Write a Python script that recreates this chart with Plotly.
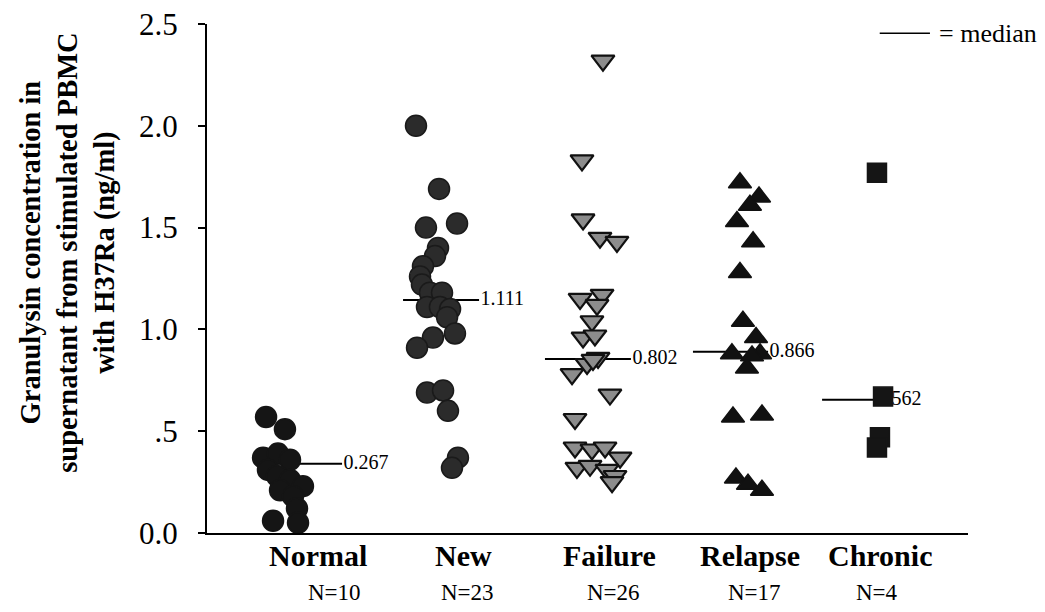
import plotly.graph_objects as go

# ---------------- data ----------------
categories = ["Normal", "New", "Failure", "Relapse", "Chronic"]
n_labels = ["N=10", "N=23", "N=26", "N=17", "N=4"]

normal_vals = [0.57, 0.51, 0.37, 0.39, 0.36, 0.31, 0.28, 0.26, 0.23, 0.21, 0.18, 0.12, 0.06, 0.05]
normal_jit = [-0.114, 0.013, -0.134, -0.034, 0.047, -0.101, -0.040, 0.047, 0.134, -0.020, 0.067, 0.094, -0.067, 0.101]

new_vals = [2.00, 1.69, 1.50, 1.52, 1.40, 1.36, 1.31, 1.26, 1.22, 1.18, 1.18, 1.11, 1.11, 1.10, 1.06,
            0.98, 0.96, 0.91, 0.69, 0.70, 0.60, 0.37, 0.32]
new_jit = [-0.106, 0.049, -0.039, 0.170, 0.042, 0.022, -0.059, -0.079, -0.066, -0.012, 0.069, -0.032,
           0.055, 0.123, 0.103, 0.156, 0.008, -0.099, -0.032, 0.076, 0.109, 0.176, 0.136]

failure_vals = [2.32, 1.83, 1.54, 1.45, 1.43, 1.15, 1.17, 1.12, 1.04, 0.96, 0.97, 0.86, 0.83, 0.85,
                0.78, 0.68, 0.56, 0.42, 0.41, 0.42, 0.37, 0.32, 0.33, 0.31, 0.28, 0.25]
failure_jit = [0.151, 0.010, 0.017, 0.131, 0.245, -0.003, 0.145, 0.111, 0.077, 0.017, 0.097, 0.118,
               0.044, 0.084, -0.057, 0.198, -0.037, -0.037, 0.077, 0.165, 0.266, -0.024, 0.064,
               0.178, 0.232, 0.212]

relapse_vals = [1.72, 1.65, 1.61, 1.53, 1.43, 1.28, 1.04, 0.96, 0.88, 0.88, 0.87, 0.81, 0.57, 0.58,
                0.27, 0.24, 0.21]
relapse_jit = [0.072, 0.200, 0.139, 0.052, 0.160, 0.072, 0.092, 0.180, 0.018, 0.207, 0.153, 0.119,
               0.025, 0.220, 0.045, 0.126, 0.220]

chronic_vals = [1.77, 0.67, 0.47, 0.42]
chronic_jit = [-0.007, 0.034, 0.013, -0.007]

median_y = [0.34, 1.145, 0.855, 0.89, 0.655]
median_text = ["0.267", "1.111", "0.802", "0.866", "0.562"]
median_x0 = [-0.054, -0.193, -0.239, -0.244, -0.376]
median_x1 = [0.397, 0.318, 0.339, 0.261, -0.020]

label_x = [1.235, 2.210, 3.198, 4.139, 5.013]
nlabel_x = [1.343, 2.237, 3.225, 4.173, 4.993]

y_tickvals = [0, 0.5, 1.0, 1.5, 2.0, 2.5]
y_ticktext = ["0.0", ".5", "1.0", "1.5", "2.0", "2.5"]

# ---------------- figure ----------------
FONT = "Liberation Serif, Times New Roman, serif"
fig = go.Figure()

# median lines and labels (drawn first so markers sit on top)
for i in range(len(categories)):
    c = i + 1
    fig.add_trace(go.Scatter(x=[c + median_x0[i], c + median_x1[i]], y=[median_y[i], median_y[i]],
                             mode="lines", line=dict(color="black", width=2),
                             hoverinfo="skip", showlegend=False))
    fig.add_trace(go.Scatter(x=[c + median_x1[i] + 0.01], y=[median_y[i]], mode="text",
                             text=[median_text[i]], textposition="middle right",
                             textfont=dict(family=FONT, size=20, color="black"),
                             hoverinfo="skip", showlegend=False))

groups = [
    (normal_vals, normal_jit, "circle", 21, "#151515", "#151515", 1.5),
    (new_vals, new_jit, "circle", 21, "#2b2b2b", "#1a1a1a", 1.5),
    (failure_vals, failure_jit, "triangle-down", 20, "#8c8c8c", "#111111", 2.2),
    (relapse_vals, relapse_jit, "triangle-up", 20, "#111111", "#111111", 1.5),
    (chronic_vals, chronic_jit, "square", 19, "#151515", "#151515", 1.5),
]
for i, (vals, jit, sym, size, fill, edge, lw) in enumerate(groups):
    fig.add_trace(go.Scatter(
        x=[i + 1 + j for j in jit], y=vals, mode="markers",
        marker=dict(symbol=sym, size=size, color=fill, line=dict(color=edge, width=lw)),
        name=categories[i], showlegend=False, cliponaxis=False))

annotations = []
for i in range(len(categories)):
    annotations.append(dict(x=label_x[i], y=-0.045, xref="x", yref="paper",
                            text="<b>" + categories[i] + "</b>", showarrow=False,
                            xanchor="center", yanchor="middle",
                            font=dict(family=FONT, size=30, color="black")))
    annotations.append(dict(x=nlabel_x[i], y=-0.116, xref="x", yref="paper",
                            text=n_labels[i], showarrow=False,
                            xanchor="center", yanchor="middle",
                            font=dict(family=FONT, size=23, color="black")))

annotations.append(dict(x=-0.183, y=0.55, xref="paper", yref="paper",
                        text="<b>Granulysin concentration in<br>supernatant from stimulated PBMC<br>with H37Ra (ng/ml)</b>",
                        textangle=-90, showarrow=False, xanchor="center", yanchor="middle",
                        font=dict(family=FONT, size=28.5, color="black")))
annotations.append(dict(x=0.959, y=0.982, xref="paper", yref="paper", text="= median",
                        showarrow=False, xanchor="left", yanchor="middle",
                        font=dict(family=FONT, size=26, color="black")))

fig.update_layout(
    width=1045, height=612,
    margin=dict(l=207, r=77, t=24, b=79, autoexpand=False),
    paper_bgcolor="white", plot_bgcolor="white",
    annotations=annotations,
    shapes=[dict(type="line", xref="paper", yref="paper", x0=0.884, x1=0.950, y0=0.982, y1=0.982,
                 line=dict(color="black", width=1.5))],
    xaxis=dict(range=[0.489, 5.605], showline=True, linecolor="black", linewidth=2, automargin=False,
               showticklabels=False, ticks="", showgrid=False, zeroline=False, fixedrange=True),
    yaxis=dict(range=[0, 2.5], showline=True, linecolor="black", linewidth=2, automargin=False,
               tickvals=y_tickvals, ticktext=y_ticktext, ticks="outside", ticklen=7,
               tickwidth=1.5, tickcolor="black", ticklabelstandoff=14,
               tickfont=dict(family=FONT, size=31, color="black"),
               showgrid=False, zeroline=False, fixedrange=True),
)

fig.write_html("out.html", config={"displayModeBar": False},
               post_script="document.body.style.margin='0';")
